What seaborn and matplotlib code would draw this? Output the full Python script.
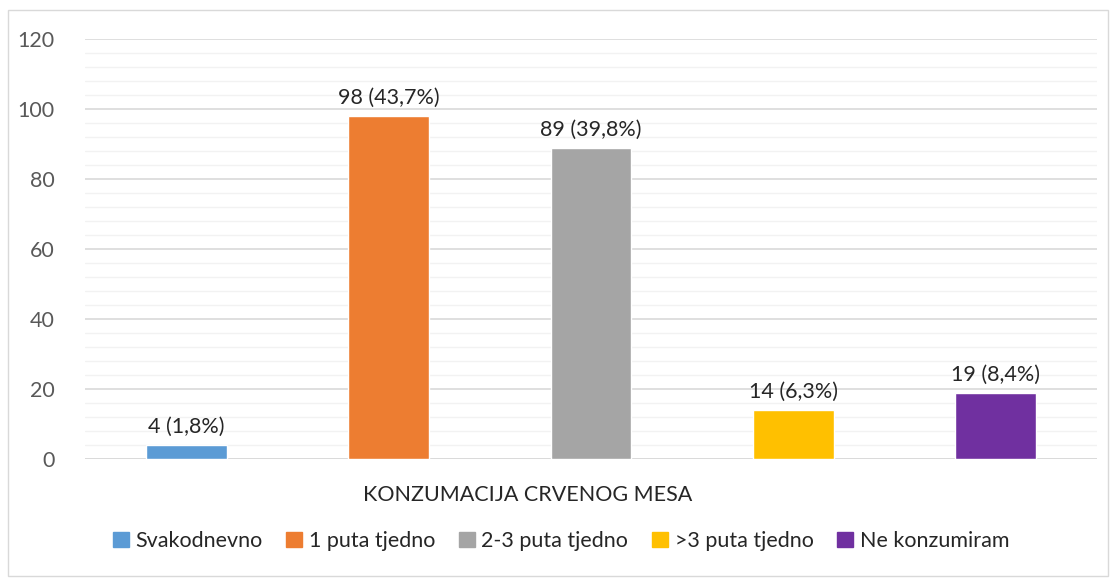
import seaborn as sns
import matplotlib.pyplot as plt
import matplotlib.patches as mpatches
import pandas as pd

categories = ['Svakodnevno', '1 puta tjedno', '2-3 puta tjedno', '>3 puta tjedno', 'Ne konzumiram']
counts = [4, 98, 89, 14, 19]
labels = ['4 (1,8%)', '98 (43,7%)', '89 (39,8%)', '14 (6,3%)', '19 (8,4%)']
colors = ['#5B9BD5', '#ED7D31', '#A5A5A5', '#FFC000', '#7030A0']

df = pd.DataFrame({'kategorija': categories, 'broj': counts})

sns.set_style('white')
plt.rcParams['font.family'] = ['Lato', 'DejaVu Sans']
fs = 15.5

fig = plt.figure(figsize=(11.12, 5.78), dpi=100)
ax = fig.add_axes([85 / 1112, 1 - 459 / 578, 1012 / 1112, 420 / 578])

sns.barplot(data=df, x='kategorija', y='broj', hue='kategorija', palette=colors,
            width=0.4, saturation=1, legend=False, ax=ax)

# data labels above bars
for i, (v, t) in enumerate(zip(counts, labels)):
    ax.annotate(t, (i, v), xytext=(0, 8), textcoords='offset pixels',
                ha='center', va='bottom', fontsize=fs, color='#262626')

ax.set_ylim(0, 120)
ax.set_xlim(-0.5, 4.5)
ax.set_yticks(range(0, 121, 20))
ax.set_yticks(range(0, 121, 4), minor=True)
ax.grid(axis='y', which='major', color='#D9D9D9', linewidth=1.2)
ax.grid(axis='y', which='minor', color='#F2F2F2', linewidth=1.0)
ax.set_axisbelow(True)
ax.tick_params(axis='y', which='both', length=0, labelsize=fs, labelcolor='#595959', pad=22)
ax.set_xticks([])
for s in ax.spines.values():
    s.set_visible(False)
ax.axhline(0, color='#D9D9D9', linewidth=1.2, zorder=0.5)

ax.set_ylabel('')
ax.set_xlabel('')
fig.text(528 / 1112, 1 - 495 / 578, 'KONZUMACIJA CRVENOG MESA', ha='center', va='center',
         fontsize=fs, color='#262626')

handles = [mpatches.Patch(color=c, label=l) for c, l in zip(colors, categories)]
fig.legend(handles=handles, loc='center', bbox_to_anchor=(561 / 1112, 1 - 541 / 578),
           ncol=5, frameon=False, fontsize=fs, handlelength=0.75, handleheight=0.75,
           handletextpad=0.3, columnspacing=1.1, labelcolor='#262626')

# outer chart border
fig.patches.append(mpatches.Rectangle((8 / 1112, 2 / 578), 1100 / 1112, 566 / 578,
                                      transform=fig.transFigure, fill=False,
                                      edgecolor='#D9D9D9', linewidth=1))

fig.savefig('out.png', dpi=100)
